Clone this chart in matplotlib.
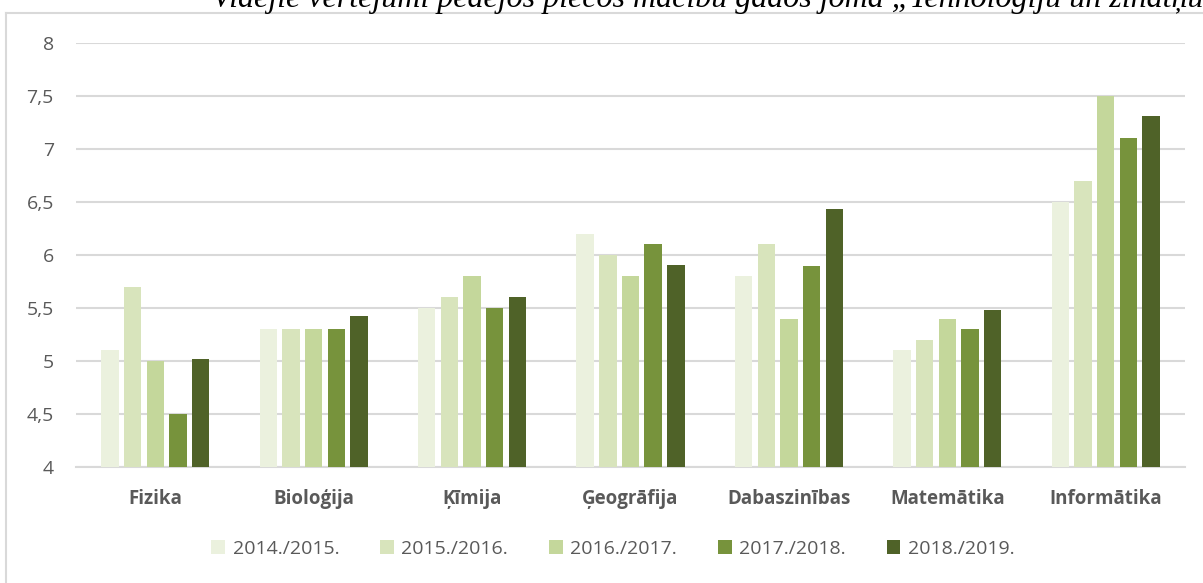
import numpy as np
import matplotlib.pyplot as plt
from matplotlib.lines import Line2D

# average grades per subject, five school years
subjects = ['Fizika', 'Bioloģija', 'Ķīmija', 'Ģeogrāfija', 'Dabaszinības', 'Matemātika', 'Informātika']
years = ['2014./2015.', '2015./2016.', '2016./2017.', '2017./2018.', '2018./2019.']
y2014 = [5.1, 5.3, 5.5, 6.2, 5.8, 5.1, 6.5]
y2015 = [5.7, 5.3, 5.6, 6.0, 6.1, 5.2, 6.7]
y2016 = [5.0, 5.3, 5.8, 5.8, 5.4, 5.4, 7.5]
y2017 = [4.5, 5.3, 5.5, 6.1, 5.9, 5.3, 7.1]
y2018 = [5.02, 5.42, 5.6, 5.91, 6.43, 5.48, 7.31]
series = [y2014, y2015, y2016, y2017, y2018]
colors = ['#ebf1de', '#d8e4bc', '#c4d79b', '#77933c', '#4f6228']

title = 'Vidējie vērtējumi pēdējos piecos mācību gados jomā „Tehnoloģiju un zinātņu pamati"'

W, H = 1203, 583
fig = plt.figure(figsize=(W / 100, H / 100), dpi=100)
ax = fig.add_axes([76 / W, 1 - 467 / H, (1185 - 76) / W, (467 - 43) / H])

font = 'Open Sans'
x = np.arange(len(subjects))
step = 0.1433
width = 0.11
for i, (vals, c, lab) in enumerate(zip(series, colors, years)):
    ax.bar(x + (i - 2) * step, np.array(vals) - 4, width, bottom=4, color=c, label=lab, zorder=3)

ax.set_xlim(-0.5, len(subjects) - 0.5)
ax.set_ylim(4, 8)
ticks = np.arange(4, 8.01, 0.5)
ax.set_yticks(ticks)
ax.set_yticklabels([('%g' % v).replace('.', ',') for v in ticks],
                   fontsize=14, color='#595959', family=font)
ax.set_xticks(x)
ax.set_xticklabels(subjects, fontsize=13.5, fontweight='bold', color='#595959', family=font)
ax.tick_params(axis='y', length=0, pad=16)
ax.tick_params(axis='x', length=0, pad=16)
ax.grid(axis='y', color='#d9d9d9', linewidth=1.5, zorder=0)
for s in ['top', 'right', 'left']:
    ax.spines[s].set_visible(False)
ax.spines['bottom'].set_color('#d9d9d9')
ax.spines['bottom'].set_linewidth(1.5)

leg = fig.legend(loc='center', bbox_to_anchor=(613 / W, 1 - 549 / H), ncol=5, frameon=False,
                 prop={'family': font, 'size': 14}, handlelength=0.7, handleheight=0.7,
                 handletextpad=0.4, columnspacing=2.1)
for t in leg.get_texts():
    t.set_color('#595959')

# chart frame (only left and top edges are inside the picture)
fig.add_artist(Line2D([6 / W, 6 / W], [0, 1 - 13 / H], color='#d9d9d9', linewidth=1.5))
fig.add_artist(Line2D([6 / W, 1], [1 - 13 / H, 1 - 13 / H], color='#d9d9d9', linewidth=1.5))

fig.text(212 / W, 1 - 7 / H, title, family='Liberation Serif', style='italic',
         fontsize=23, color='black', va='baseline', ha='left')

fig.savefig('out.png', dpi=100, facecolor='white')
